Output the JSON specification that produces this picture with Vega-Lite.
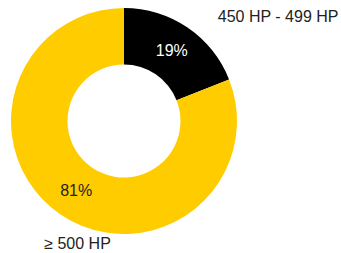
{
  "$schema": "https://vega.github.io/schema/vega-lite/v6.json",
  "width": 248,
  "height": 242,
  "autosize": "none",
  "padding": {"left": 0, "top": 0, "right": 93, "bottom": 11},
  "background": "white",
  "data": {"values": [
    {"category": "450 HP - 499 HP", "share": 19, "label": "19%", "rank": 1},
    {"category": "≥ 500 HP", "share": 81, "label": "81%", "rank": 2}
  ]},
  "encoding": {
    "theta": {"field": "share", "type": "quantitative", "stack": true},
    "order": {"field": "rank", "type": "quantitative"}
  },
  "layer": [
    {
      "mark": {"type": "arc", "outerRadius": 113, "innerRadius": 56.5, "stroke": null},
      "encoding": {
        "color": {"field": "category", "type": "nominal",
          "scale": {"domain": ["450 HP - 499 HP", "≥ 500 HP"], "range": ["#000000", "#FFCC00"]},
          "legend": null}
      }
    },
    {
      "mark": {"type": "text", "radius": 85, "font": "Liberation Sans", "fontSize": 16, "align": "center", "baseline": "middle"},
      "encoding": {
        "text": {"field": "label"},
        "color": {"condition": {"test": "datum.rank == 1", "value": "#ffffff"}, "value": "#222222"}
      }
    },
    {
      "mark": {"type": "text", "radius": {"expr": "datum.rank == 1 ? 126 : 149"}, "dx": {"expr": "datum.rank == 1 ? 23 : 4"}, "font": "Liberation Sans", "fontSize": 16, "align": "left", "baseline": "middle", "color": "#222222"},
      "encoding": {"text": {"field": "category"}}
    }
  ]
}
